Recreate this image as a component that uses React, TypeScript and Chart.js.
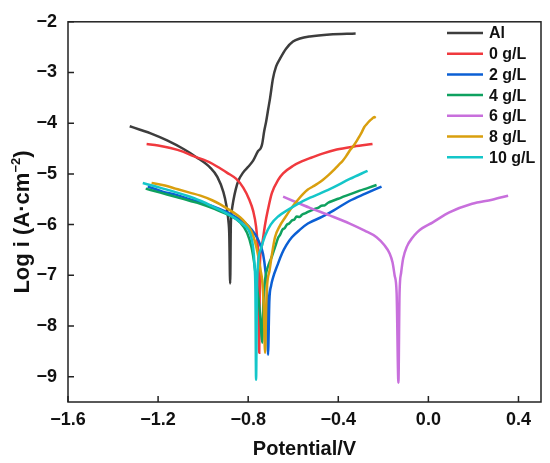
import { useEffect, useRef } from "react";
import { Chart, registerables } from "chart.js";

Chart.register(...registerables);

const FONT = '"Liberation Sans", Arial, Helvetica, sans-serif';

const seriesNames = ["Al", "0 g/L", "2 g/L", "4 g/L", "6 g/L", "8 g/L", "10 g/L"];
const seriesColors = ["#3d3d3d", "#f0393e", "#0b5fd4", "#0fa15f", "#c86fdc", "#d99f0e", "#14c6c9"];

const xTicks = [-1.6, -1.2, -0.8, -0.4, 0.0, 0.4];
const yTicks = [-9, -8, -7, -6, -5, -4, -3, -2];

// [potential (V), log i]
const al: [number, number][] = [
  [-1.326, -4.06], [-1.28, -4.13], [-1.233, -4.2], [-1.16, -4.34], [-1.087, -4.51], [-1.03, -4.67],
  [-0.968, -4.88], [-0.937, -5.06], [-0.91, -5.36], [-0.897, -5.62], [-0.888, -5.92], [-0.884, -6.2],
  [-0.88, -7.16], [-0.877, -6.0], [-0.872, -5.7], [-0.866, -5.53], [-0.855, -5.3], [-0.844, -5.14],
  [-0.822, -4.97], [-0.8, -4.86], [-0.778, -4.74], [-0.756, -4.55], [-0.745, -4.5], [-0.738, -4.41],
  [-0.729, -4.16], [-0.72, -3.96], [-0.711, -3.72], [-0.703, -3.51], [-0.69, -3.12], [-0.676, -2.88],
  [-0.659, -2.73], [-0.632, -2.53], [-0.601, -2.39], [-0.57, -2.33], [-0.526, -2.29], [-0.438, -2.25],
  [-0.323, -2.23],
];
const g0: [number, number][] = [
  [-1.251, -4.41], [-1.2, -4.44], [-1.145, -4.49], [-1.09, -4.56], [-1.043, -4.65], [-0.999, -4.72],
  [-0.959, -4.8], [-0.925, -4.89], [-0.893, -4.98], [-0.853, -5.1], [-0.822, -5.27], [-0.796, -5.5],
  [-0.778, -5.73], [-0.765, -6.04], [-0.758, -6.4], [-0.754, -6.8], [-0.751, -8.53], [-0.748, -6.8],
  [-0.744, -6.55], [-0.735, -6.3], [-0.725, -6.0], [-0.712, -5.7], [-0.695, -5.38], [-0.667, -5.12],
  [-0.645, -4.99], [-0.6, -4.84], [-0.56, -4.75], [-0.526, -4.69], [-0.47, -4.6],
  [-0.407, -4.52], [-0.33, -4.46], [-0.248, -4.41],
];
const g2: [number, number][] = [
  [-1.246, -5.25], [-1.18, -5.35], [-1.123, -5.41], [-1.06, -5.5], [-1.012, -5.56], [-0.95, -5.65],
  [-0.902, -5.74], [-0.855, -5.85], [-0.813, -5.97], [-0.785, -6.1], [-0.76, -6.26], [-0.745, -6.42],
  [-0.734, -6.58], [-0.724, -6.9], [-0.716, -7.4], [-0.712, -8.57], [-0.706, -7.5], [-0.698, -7.2],
  [-0.69, -7.05], [-0.67, -6.8], [-0.65, -6.57], [-0.63, -6.4], [-0.606, -6.25], [-0.57, -6.1],
  [-0.535, -5.98], [-0.473, -5.85], [-0.42, -5.72], [-0.349, -5.53], [-0.28, -5.39], [-0.208, -5.25],
];
const g4: [number, number][] = [
  [-1.255, -5.29], [-1.19, -5.37], [-1.123, -5.45], [-1.06, -5.53], [-1.012, -5.59], [-0.95, -5.69],
  [-0.893, -5.8], [-0.835, -5.96], [-0.805, -6.16], [-0.785, -6.45], [-0.772, -6.8], [-0.762, -7.2],
  [-0.752, -7.55], [-0.745, -7.9], [-0.738, -8.33], [-0.733, -7.6], [-0.728, -7.2], [-0.72, -6.95],
  [-0.71, -6.8], [-0.703, -6.72], [-0.694, -6.62], [-0.685, -6.5], [-0.676, -6.38], [-0.667, -6.26],
  [-0.658, -6.2], [-0.648, -6.1], [-0.638, -6.07], [-0.628, -6.0], [-0.618, -5.98], [-0.606, -5.92],
  [-0.595, -5.9], [-0.585, -5.84], [-0.572, -5.85], [-0.56, -5.8], [-0.548, -5.78], [-0.535, -5.75],
  [-0.52, -5.72], [-0.504, -5.69], [-0.49, -5.67], [-0.475, -5.63], [-0.46, -5.62], [-0.445, -5.57],
  [-0.424, -5.53], [-0.4, -5.49], [-0.371, -5.44], [-0.34, -5.39], [-0.305, -5.33], [-0.27, -5.28],
  [-0.23, -5.22],
];
const g6: [number, number][] = [
  [-0.645, -5.45], [-0.592, -5.55], [-0.526, -5.67], [-0.438, -5.82], [-0.349, -5.98], [-0.283, -6.12],
  [-0.23, -6.25], [-0.195, -6.41], [-0.172, -6.57], [-0.159, -6.75], [-0.15, -7.0], [-0.141, -7.35],
  [-0.133, -9.12], [-0.128, -7.35], [-0.121, -6.95], [-0.112, -6.67], [-0.095, -6.43], [-0.071, -6.26],
  [-0.049, -6.15], [-0.027, -6.07], [0.018, -5.96], [0.093, -5.76], [0.194, -5.59], [0.283, -5.51],
  [0.354, -5.43],
];
const g8: [number, number][] = [
  [-1.229, -5.18], [-1.17, -5.23], [-1.123, -5.29], [-1.06, -5.37], [-1.012, -5.43], [-0.96, -5.52],
  [-0.924, -5.6], [-0.866, -5.76], [-0.835, -5.86], [-0.813, -5.96], [-0.79, -6.1], [-0.778, -6.22],
  [-0.765, -6.42], [-0.756, -6.61], [-0.745, -6.9], [-0.738, -7.1], [-0.731, -7.6], [-0.725, -8.53],
  [-0.72, -7.6], [-0.716, -7.2], [-0.705, -6.9], [-0.695, -6.6], [-0.681, -6.25], [-0.66, -6.03],
  [-0.636, -5.86], [-0.612, -5.7], [-0.592, -5.58], [-0.579, -5.51], [-0.557, -5.4], [-0.535, -5.31],
  [-0.513, -5.25], [-0.491, -5.19], [-0.469, -5.12], [-0.445, -5.03], [-0.424, -4.94],
  [-0.4, -4.83], [-0.38, -4.74], [-0.365, -4.65], [-0.349, -4.54], [-0.333, -4.45], [-0.318, -4.35],
  [-0.305, -4.25], [-0.296, -4.18], [-0.285, -4.08], [-0.274, -4.02], [-0.262, -3.96], [-0.252, -3.92],
  [-0.24, -3.88], [-0.234, -3.9],
];
const g10: [number, number][] = [
  [-1.268, -5.18], [-1.21, -5.25], [-1.145, -5.33], [-1.08, -5.42], [-1.012, -5.53], [-0.95, -5.66],
  [-0.88, -5.82], [-0.822, -6.0], [-0.791, -6.18], [-0.778, -6.45], [-0.772, -6.8], [-0.768, -7.3],
  [-0.765, -9.06], [-0.761, -7.3], [-0.756, -6.76], [-0.742, -6.46], [-0.725, -6.22], [-0.7, -6.0],
  [-0.667, -5.84], [-0.62, -5.7], [-0.579, -5.59], [-0.525, -5.47], [-0.473, -5.37],
  [-0.424, -5.27], [-0.349, -5.1], [-0.27, -4.94],
];

const seriesData = [al, g0, g2, g4, g6, g8, g10];

const fmt = (v: number, digits: number) => v.toFixed(digits).replace("-", "\u2212");

const decorPlugin = {
  id: "decor",
  afterDatasetsDraw(chart: any) {
    const { ctx, chartArea: a, scales } = chart;
    ctx.save();
    ctx.strokeStyle = "#222";
    ctx.lineWidth = 1.5;
    ctx.strokeRect(a.left, a.top, a.right - a.left, a.bottom - a.top);
    ctx.beginPath();
    xTicks.forEach((v) => {
      const px = scales.x.getPixelForValue(v);
      ctx.moveTo(px, a.bottom);
      ctx.lineTo(px, a.bottom - 6);
    });
    yTicks.forEach((v) => {
      const py = scales.y.getPixelForValue(v);
      ctx.moveTo(a.left, py);
      ctx.lineTo(a.left + 6, py);
    });
    ctx.stroke();
    ctx.restore();
  },
  afterDraw(chart: any) {
    const { ctx, chartArea: a } = chart;
    ctx.save();
    ctx.fillStyle = "#111";
    // legend
    ctx.font = `bold 16px ${FONT}`;
    ctx.textBaseline = "middle";
    ctx.textAlign = "left";
    seriesNames.forEach((name, i) => {
      const y = 33 + i * 20.7;
      ctx.strokeStyle = seriesColors[i];
      ctx.lineWidth = 2.5;
      ctx.beginPath();
      ctx.moveTo(447, y);
      ctx.lineTo(483, y);
      ctx.stroke();
      ctx.fillText(name, 489, y + 1);
    });
    // x title
    ctx.font = `bold 20px ${FONT}`;
    ctx.textAlign = "center";
    ctx.textBaseline = "alphabetic";
    ctx.fillText("Potential/V", (a.left + a.right) / 2, 455);
    // y title with superscript
    ctx.translate(29, 222);
    ctx.rotate(-Math.PI / 2);
    ctx.textAlign = "left";
    const main = "Log i (A\u00b7cm";
    const sup = "\u22122";
    const end = ")";
    ctx.font = `bold 22px ${FONT}`;
    const w1 = ctx.measureText(main).width;
    const w3 = ctx.measureText(end).width;
    ctx.font = `bold 13px ${FONT}`;
    const w2 = ctx.measureText(sup).width;
    const start = -(w1 + w2 + w3) / 2;
    ctx.font = `bold 22px ${FONT}`;
    ctx.fillText(main, start, 0);
    ctx.fillText(end, start + w1 + w2, 0);
    ctx.font = `bold 13px ${FONT}`;
    ctx.fillText(sup, start + w1, -9);
    ctx.restore();
  },
};

const App = () => {
  const canvasRef = useRef<HTMLCanvasElement>(null);

  useEffect(() => {
    const canvas = canvasRef.current;
    if (!canvas) return;

    const tickFont = { family: FONT, size: 18, weight: "bold" as const };

    const chart = new Chart(canvas, {
      type: "line",
      data: {
        datasets: seriesData.map((pts, i) => ({
          label: seriesNames[i],
          data: pts.map(([x, y]) => ({ x, y })),
          borderColor: seriesColors[i],
          backgroundColor: seriesColors[i],
          borderWidth: 2.5,
          pointRadius: 0,
          cubicInterpolationMode: "monotone" as const,
          order: seriesData.length - i,
        })),
      },
      options: {
        responsive: true,
        maintainAspectRatio: false,
        animation: false,
        layout: { padding: { top: 20, right: 9, left: 0, bottom: 0 } },
        plugins: { legend: { display: false }, tooltip: { enabled: false } },
        scales: {
          x: {
            type: "linear",
            min: -1.6,
            max: 0.5,
            grid: { display: false, drawTicks: false },
            border: { display: false },
            ticks: {
              font: tickFont,
              color: "#111",
              padding: 7,
              autoSkip: false,
              maxRotation: 0,
              callback: (v) => fmt(Number(v), 1),
            },
            afterBuildTicks: (scale) => {
              scale.ticks = xTicks.map((value) => ({ value }));
            },
            afterFit: (scale) => {
              scale.height = 61;
            },
          },
          y: {
            type: "linear",
            min: -9.5,
            max: -2,
            grid: { display: false, drawTicks: false },
            border: { display: false },
            ticks: {
              font: tickFont,
              color: "#111",
              padding: 11,
              autoSkip: false,
              callback: (v) => fmt(Number(v), 0),
            },
            afterBuildTicks: (scale) => {
              scale.ticks = yTicks.map((value) => ({ value }));
            },
            afterFit: (scale) => {
              scale.width = 68;
            },
          },
        },
      },
      plugins: [decorPlugin],
    });

    return () => {
      chart.destroy();
    };
  }, []);

  return (
    <div style={{ position: "absolute", left: 0, top: 0, width: 550, height: 463, background: "#fff" }}>
      <canvas ref={canvasRef}></canvas>
    </div>
  );
};

export default App;
